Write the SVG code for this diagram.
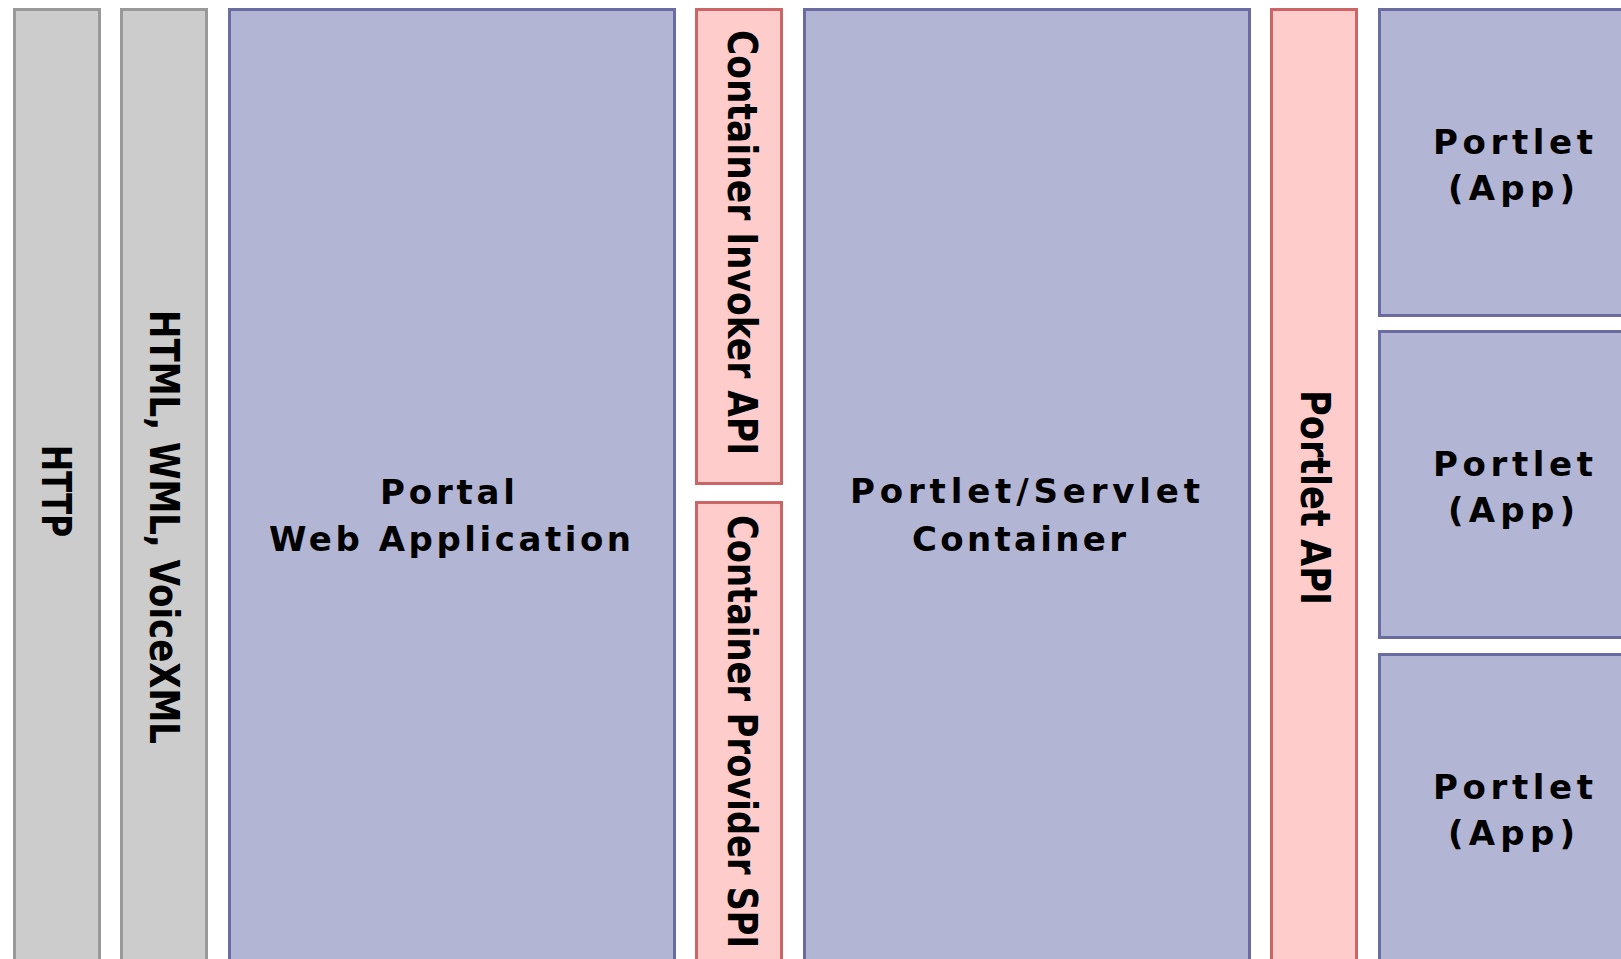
<svg xmlns="http://www.w3.org/2000/svg" width="1621" height="959" viewBox="0 0 1621 959">
<style>
.g{fill:#cccccc;stroke:#999999;stroke-width:3}
.b{fill:#b3b5d4;stroke:#6a6ba0;stroke-width:3}
.p{fill:#ffcccc;stroke:#cc6666;stroke-width:3}
text{font-family:"DejaVu Sans","Verdana",sans-serif;font-weight:bold;fill:#000}
.h{font-size:34px}
.v{font-size:40px}
</style>
<rect width="1621" height="959" fill="#ffffff"/>
<g id="http">
<rect class="g" x="14.5" y="9.5" width="85" height="960"/>
<text class="v" transform="translate(42,445) rotate(90)" textLength="92" lengthAdjust="spacingAndGlyphs">HTTP</text>
</g>
<g id="markup">
<rect class="g" x="121.5" y="9.5" width="85" height="960"/>
<text class="v" transform="translate(150,310) rotate(90)" textLength="434" lengthAdjust="spacingAndGlyphs">HTML, WML, VoiceXML</text>
</g>
<g id="portal">
<rect class="b" x="229.5" y="9.5" width="445" height="960"/>
<text class="h" x="380" y="504" textLength="135" lengthAdjust="spacing">Portal</text>
<text class="h" x="269" y="551" textLength="362" lengthAdjust="spacing">Web Application</text>
</g>
<g id="invoker">
<rect class="p" x="696.5" y="9.5" width="85" height="474"/>
<text class="v" transform="translate(728,30) rotate(90)" textLength="425" lengthAdjust="spacingAndGlyphs">Container Invoker API</text>
</g>
<g id="provider">
<rect class="p" x="696.5" y="502.5" width="85" height="500"/>
<text class="v" transform="translate(728,515) rotate(90)" textLength="433" lengthAdjust="spacingAndGlyphs">Container Provider SPI</text>
</g>
<g id="container">
<rect class="b" x="804.5" y="9.5" width="445" height="960"/>
<text class="h" x="850" y="503" textLength="350" lengthAdjust="spacing">Portlet/Servlet</text>
<text class="h" x="912" y="551" textLength="214" lengthAdjust="spacing">Container</text>
</g>
<g id="portletapi">
<rect class="p" x="1271.5" y="9.5" width="85" height="960"/>
<text class="v" transform="translate(1301,390) rotate(90)" textLength="215" lengthAdjust="spacingAndGlyphs">Portlet API</text>
</g>
<g id="portlet1">
<rect class="b" x="1379.5" y="9.5" width="300" height="306"/>
<text class="h" x="1433" y="154" textLength="160" lengthAdjust="spacing">Portlet</text>
<text class="h" x="1448" y="200" textLength="127" lengthAdjust="spacing">(App)</text>
</g>
<g id="portlet2">
<rect class="b" x="1379.5" y="331.5" width="300" height="306"/>
<text class="h" x="1433" y="476" textLength="160" lengthAdjust="spacing">Portlet</text>
<text class="h" x="1448" y="522" textLength="127" lengthAdjust="spacing">(App)</text>
</g>
<g id="portlet3">
<rect class="b" x="1379.5" y="654.5" width="300" height="400"/>
<text class="h" x="1433" y="799" textLength="160" lengthAdjust="spacing">Portlet</text>
<text class="h" x="1448" y="845" textLength="127" lengthAdjust="spacing">(App)</text>
</g>
<g id="connectors"/>
</svg>
